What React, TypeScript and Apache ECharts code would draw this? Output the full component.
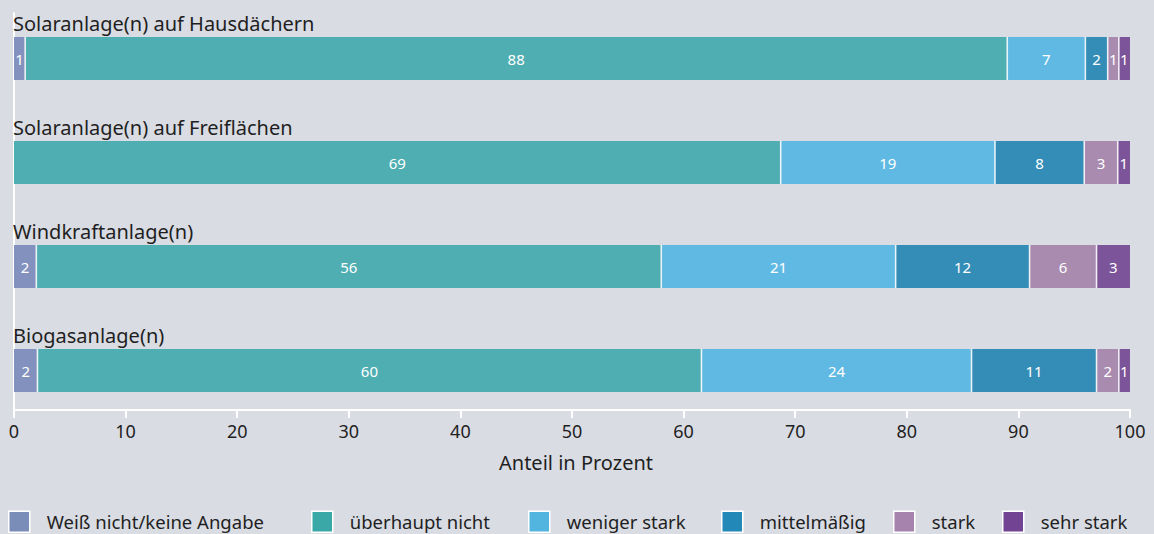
import React, { useEffect, useRef } from "react";
import * as echarts from "echarts";

const categories = [
  "Solaranlage(n) auf Hausdächern",
  "Solaranlage(n) auf Freiflächen",
  "Windkraftanlage(n)",
  "Biogasanlage(n)",
];

const seriesNames = [
  "Weiß nicht/keine Angabe",
  "überhaupt nicht",
  "weniger stark",
  "mittelmäßig",
  "stark",
  "sehr stark",
];

const weissNicht = [1, 0, 2, 2.1];
const ueberhauptNicht = [88, 68.7, 56, 59.5];
const wenigerStark = [7, 19.2, 21, 24.2];
const mittelmaessig = [2, 8.0, 12, 11.2];
const stark = [1, 3.0, 6, 2.0];
const sehrStark = [1, 1.1, 3, 1.0];

const xTicks = [0, 10, 20, 30, 40, 50, 60, 70, 80, 90, 100];

const seriesValues = [weissNicht, ueberhauptNicht, wenigerStark, mittelmaessig, stark, sehrStark];

const barColors = ["#8291bd", "#4faeb2", "#5fb9e2", "#348db7", "#a98bb0", "#7b5499"];
const legendColors = ["#7a8cb8", "#3ba8a8", "#52b5e0", "#2288b8", "#a583ad", "#714392"];
const legendLefts = [8, 311, 528, 721, 893, 1002];

const FONT = "'Noto Sans', 'DejaVu Sans', sans-serif";
const TEXT = "#1f1f1f";
const BAR_H = 43;

export default function App() {
  const ref = useRef<HTMLDivElement>(null);

  useEffect(() => {
    if (!ref.current) return;
    const chart = echarts.init(ref.current, undefined, { renderer: "svg" });

    const series = seriesValues.map((vals, i) => {
      const data = vals.map((v, j) => {
        let start = 0;
        for (let k = 0; k < i; k++) start += seriesValues[k][j];
        return [start, start + v, j, v];
      });
      return {
        name: seriesNames[i],
        type: "custom",
        xAxisIndex: 0,
        yAxisIndex: 0,
        itemStyle: { color: barColors[i] },
        encode: { x: [0, 1], y: 2 },
        data,
        renderItem: (params: any, api: any) => {
          const start = api.value(0);
          const end = api.value(1);
          const cat = api.value(2);
          const v = api.value(3);
          if (!(v > 0)) return { type: "group", children: [] };
          const p0 = api.coord([start, cat]);
          const p1 = api.coord([end, cat]);
          const top = p0[1] - BAR_H / 2;
          const children: any[] = [
            {
              type: "rect",
              shape: { x: p0[0], y: top, width: p1[0] - p0[0], height: BAR_H },
              style: { fill: api.visual("color") },
              textContent: {
                style: {
                  text: v < 0.5 ? "" : String(Math.round(v)),
                  fill: "#ffffff",
                  fontSize: 15,
                  fontFamily: FONT,
                },
              },
              textConfig: { position: "inside" },
            },
          ];
          if (start > 0) {
            children.push({
              type: "line",
              shape: { x1: p0[0], y1: top, x2: p0[0], y2: top + BAR_H },
              style: { stroke: "rgba(255,255,255,0.85)", lineWidth: 1.6 },
            });
          }
          return { type: "group", children };
        },
      };
    });

    const legends = seriesNames.map((n, i) => ({
      left: legendLefts[i],
      top: 510.5,
      padding: 0,
      itemGap: 0,
      itemWidth: 21,
      itemHeight: 21,
      icon: "rect",
      selectedMode: false,
      itemStyle: { borderColor: "#ffffff", borderWidth: 1.5 },
      textStyle: {
        color: TEXT,
        fontSize: 18.5,
        lineHeight: 20,
        fontFamily: FONT,
        padding: [0, 0, 0, 12],
      },
      data: [{ name: n, itemStyle: { color: legendColors[i] } }],
    }));

    chart.setOption({
      animation: false,
      backgroundColor: "#d9dce3",
      textStyle: { fontFamily: FONT },
      grid: [
        { left: 14, right: 24, top: 6.5, height: 416, containLabel: false },
        { left: 14, right: 24, top: 13, height: 397, containLabel: false },
      ],
      xAxis: [
        { gridIndex: 0, type: "value", min: 0, max: 100, show: false },
        {
          gridIndex: 1,
          type: "value",
          min: 0,
          max: 100,
          interval: 10,
          axisLine: { show: true, lineStyle: { color: "#ffffff", width: 2 } },
          axisTick: { show: true, length: 8, lineStyle: { color: "#ffffff", width: 2 } },
          splitLine: { show: false },
          axisLabel: {
            color: TEXT,
            fontSize: 18,
            fontFamily: FONT,
            margin: 12,
            formatter: (v: number) => (xTicks.includes(v) ? String(v) : ""),
          },
          name: "Anteil in Prozent",
          nameLocation: "middle",
          nameGap: 42,
          nameTextStyle: { color: TEXT, fontSize: 20, fontFamily: FONT, padding: [0, 0, 0, 8] },
        },
      ],
      yAxis: [
        {
          gridIndex: 0,
          type: "category",
          inverse: true,
          data: categories,
          axisLine: { show: false },
          axisTick: { show: false },
          splitLine: { show: false },
          axisLabel: {
            inside: true,
            margin: -1,
            align: "left",
            verticalAlign: "bottom",
            lineHeight: 22,
            padding: [0, 0, 24, 0],
            color: TEXT,
            fontSize: 20,
            fontFamily: FONT,
          },
        },
        {
          gridIndex: 1,
          type: "value",
          min: 0,
          max: 1,
          axisLine: { show: true, lineStyle: { color: "#ffffff", width: 2 } },
          axisTick: { show: false },
          axisLabel: { show: false },
          splitLine: { show: false },
        },
      ],
      legend: legends,
      series,
    });

    return () => chart.dispose();
  }, []);

  return (
    <div
      ref={ref}
      style={{ position: "fixed", left: 0, top: 0, width: 1154, height: 534 }}
    />
  );
}
